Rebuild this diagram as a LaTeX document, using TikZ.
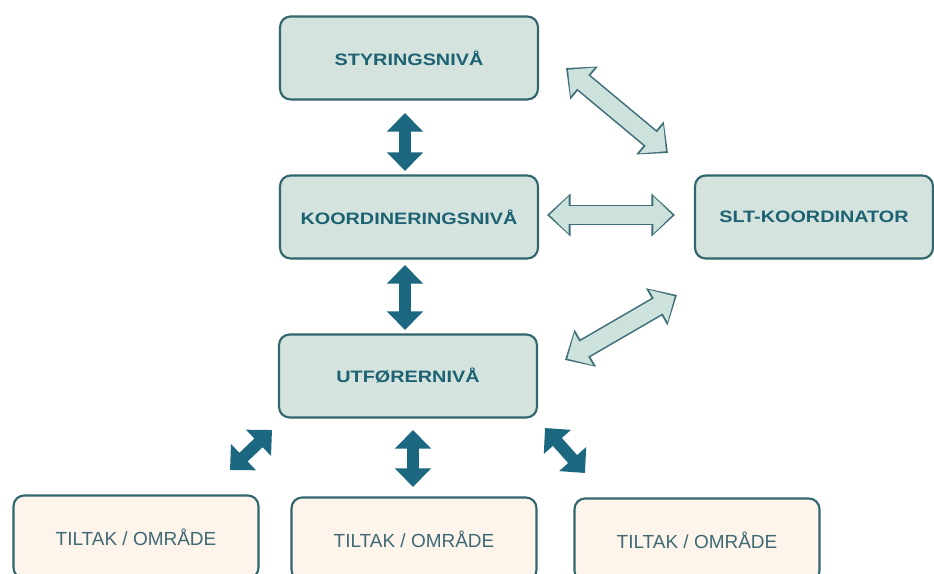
\documentclass[tikz,border=0pt]{standalone}
\usepackage{fontspec}
\setmainfont{Liberation Sans}
\newfontfamily\boxfont[FakeStretch=1.2]{Liberation Sans}
\usetikzlibrary{arrows.meta}
\definecolor{boxfill}{RGB}{212,227,221}
\definecolor{boxline}{RGB}{50,102,110}
\definecolor{boxtext}{RGB}{28,98,115}
\definecolor{areafill}{RGB}{253,245,236}
\definecolor{areatext}{RGB}{62,104,116}
\definecolor{darkarrow}{RGB}{27,104,128}
\definecolor{lightarrow}{RGB}{206,226,221}
\definecolor{lightline}{RGB}{62,110,120}
\begin{document}
\begin{tikzpicture}[x=0.02cm, y=-0.02cm,
    level/.style={draw=boxline, fill=boxfill, line width=1.2pt, rounded corners=6pt,
        minimum width=5.16cm, minimum height=1.66cm,
        font=\boxfont\bfseries\fontsize{9.4}{11}\selectfont, text=boxtext},
    area/.style={draw=boxline, fill=areafill, line width=1.2pt, rounded corners=6pt,
        minimum width=4.9cm, minimum height=1.66cm,
        font=\fontsize{10.8}{12}\selectfont, text=areatext},
    solidarrow/.style={darkarrow, line width=6.8pt,
        {Triangle[length=10.6pt, width=20pt]}-{Triangle[length=10.6pt, width=20pt]}},
    hollowout/.style={lightline, line width=11.6pt,
        {Triangle[length=13.4pt, width=23.6pt]}-{Triangle[length=13.4pt, width=23.6pt]}},
    hollowin/.style={lightarrow, line width=9.8pt, shorten <=1.5pt, shorten >=1.5pt,
        {Triangle[length=10.8pt, width=20.4pt]}-{Triangle[length=10.8pt, width=20.4pt]}}]
    \useasboundingbox (0,0) rectangle (934,574);
    \clip (0,0) rectangle (934,574);
    \fill[white] (0,0) rectangle (934,574);

    % 1. Nivåene
    \node[level] (styr) at (409,58) {STYRINGSNIVÅ};
    \node[level] (koord) at (409,217) {KOORDINERINGSNIVÅ};
    \node[level, minimum width=4.76cm] (slt) at (814,217) {SLT-KOORDINATOR};
    \node[level] (utf) at (408,376) {UTFØRERNIVÅ};

    % 2. Tiltak / område (nederst, delvis utenfor bildet)
    \node[area] (tiltakA) at (136,537) {TILTAK / OMRÅDE};
    \node[area] (tiltakB) at (414,539) {TILTAK / OMRÅDE};
    \node[area] (tiltakC) at (697,540) {TILTAK / OMRÅDE};

    % 3. Endepunkter for pilene
    \coordinate (sk1) at (405,113);  \coordinate (sk2) at (405,171);
    \coordinate (ku1) at (405,265);  \coordinate (ku2) at (405,330);
    \coordinate (ub1) at (413,430);  \coordinate (ub2) at (413,487);
    \coordinate (ua1) at (272,430);  \coordinate (ua2) at (230,470);
    \coordinate (uc1) at (545,428);  \coordinate (uc2) at (585,473);
    \coordinate (ss1) at (566,68);   \coordinate (ss2) at (668,153);
    \coordinate (ks1) at (547,215);  \coordinate (ks2) at (675,215);
    \coordinate (su1) at (677,295);  \coordinate (su2) at (565,360);

    % 4. Mørke piler mellom nivåene
    \draw[solidarrow] (sk1) -- (sk2);
    \draw[solidarrow] (ku1) -- (ku2);
    \draw[solidarrow] (ub1) -- (ub2);
    \draw[solidarrow] (ua1) -- (ua2);
    \draw[solidarrow] (uc1) -- (uc2);

    % 5. Lyse piler til SLT-koordinator
    \foreach \a/\b in {ss1/ss2, ks1/ks2, su1/su2} {
        \draw[hollowout] (\a) -- (\b);
        \draw[hollowin] (\a) -- (\b);
    }
\end{tikzpicture}
\end{document}
